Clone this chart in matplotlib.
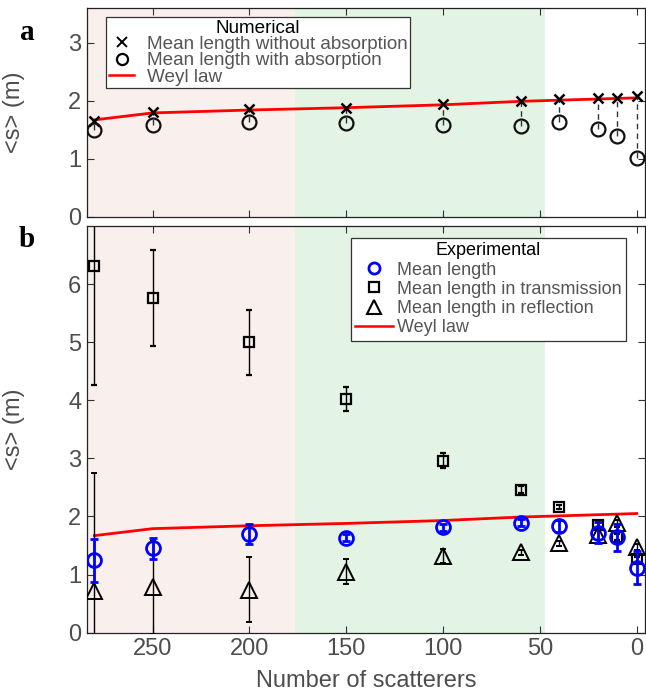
import matplotlib
matplotlib.use("Agg")
import matplotlib.pyplot as plt
from matplotlib.lines import Line2D
import numpy as np

plt.rcParams['font.family'] = ['Liberation Sans', 'DejaVu Sans']

# Data
scatterers = [280, 250, 200, 150, 100, 60, 40, 20, 10, 0]
weyl = [1.67, 1.79, 1.84, 1.88, 1.93, 1.99, 2.01, 2.03, 2.04, 2.05]

# panel a - numerical
num_no_abs = [1.65, 1.80, 1.85, 1.88, 1.95, 1.99, 2.03, 2.05, 2.05, 2.09]
num_abs = [1.49, 1.58, 1.64, 1.61, 1.58, 1.57, 1.64, 1.51, 1.39, 1.01]

# panel b - experimental
exp_mean = [1.25, 1.45, 1.70, 1.63, 1.81, 1.89, 1.84, 1.72, 1.64, 1.12]
exp_mean_err = [0.37, 0.18, 0.17, 0.06, 0.06, 0.06, 0.10, 0.18, 0.23, 0.29]
exp_trans = [6.31, 5.76, 5.00, 4.02, 2.96, 2.46, 2.16, 1.85, 1.65, 1.26]
exp_trans_err = [2.04, 0.83, 0.56, 0.21, 0.13, 0.06, 0.03, 0.05, 0.05, 0.05]
exp_refl = [0.72, 0.78, 0.74, 1.05, 1.32, 1.38, 1.54, 1.68, 1.88, 1.48]
exp_refl_err = [2.02, 0.80, 0.56, 0.21, 0.12, 0.05, 0.04, 0.08, 0.06, 0.05]

# shaded regimes
pink_span = (284, 176.5)
green_span = (176.5, 47.3)

TICK_COLOR = '#4d4d4d'
TEXT_GREY = '#555555'

fig = plt.figure(figsize=(6.46, 6.95), dpi=100)
ax_a = fig.add_axes([0.1342, 0.6882, 0.8650, 0.3003])
ax_b = fig.add_axes([0.1342, 0.0897, 0.8650, 0.5852])


def style_axes(ax):
    ax.axvspan(*pink_span, color='#f9efed', zorder=0, lw=0)
    ax.axvspan(*green_span, color='#e3f3e4', zorder=0, lw=0)
    ax.set_xlim(284, -4.5)
    ax.set_xticks([250, 200, 150, 100, 50, 0])
    ax.tick_params(direction='in', length=5, width=0.8, top=True, right=True,
                   labelsize=17, labelcolor=TICK_COLOR, color='#333333', pad=4)
    for s in ax.spines.values():
        s.set_color('#222222')
        s.set_linewidth(0.9)
    ax.set_ylabel('<s> (m)', fontsize=17, color=TICK_COLOR)
    ax.yaxis.set_label_coords(-0.11, 0.5)


# ---- panel a ----
style_axes(ax_a)
ax_a.set_ylim(0, 3.6)
ax_a.set_yticks([0, 1, 2, 3])
ax_a.tick_params(labelbottom=False)
ax_a.vlines(scatterers, num_abs, num_no_abs, colors='#333333', linestyles=(0, (4, 3)),
            lw=1.0, zorder=2)
ax_a.plot(scatterers, weyl, color='red', lw=2, zorder=3)
ax_a.plot(scatterers, num_no_abs, 'x', color='black', ms=7.5, mew=1.8, ls='none', zorder=4)
ax_a.plot(scatterers, num_abs, 'o', mfc='none', mec='#111111', ms=10, mew=1.6, ls='none', zorder=4)

h_a = [Line2D([], [], marker='x', color='black', ls='none', ms=7, mew=1.4),
       Line2D([], [], marker='o', mfc='none', mec='black', ls='none', ms=8, mew=1.6),
       Line2D([], [], color='red', lw=1.8)]
leg_a = ax_a.legend(h_a, ['Mean length without absorption', 'Mean length with absorption', 'Weyl law'],
                    title='Numerical', loc='upper left', bbox_to_anchor=(0.0345, 0.957),
                    borderaxespad=0, fontsize=13.6, title_fontsize=13.6, labelcolor=TEXT_GREY,
                    fancybox=False, edgecolor='#333333', framealpha=1, labelspacing=-0.05,
                    borderpad=0.15, handletextpad=0.65, handlelength=1.35)
leg_a.get_frame().set_linewidth(0.9)

# ---- panel b ----
style_axes(ax_b)
ax_b.set_ylim(0, 7)
ax_b.set_yticks([0, 1, 2, 3, 4, 5, 6])
ax_b.set_xlabel('Number of scatterers', fontsize=17, color=TICK_COLOR, labelpad=7)
ax_b.plot(scatterers, weyl, color='red', lw=2, zorder=3)
ax_b.errorbar(scatterers, exp_refl, yerr=exp_refl_err, fmt='^', mfc='none', mec='black',
              ms=11, mew=1.4, ecolor='black', elinewidth=1.0, capsize=2, zorder=4)
ax_b.errorbar(scatterers, exp_trans, yerr=exp_trans_err, fmt='s', mfc='none', mec='black',
              ms=7.5, mew=1.6, ecolor='black', elinewidth=1.0, capsize=2, zorder=4)
ax_b.errorbar(scatterers, exp_mean, yerr=exp_mean_err, fmt='o', mfc='none', mec='blue',
              ms=10, mew=2.0, ecolor='blue', elinewidth=2.0, capsize=3, capthick=2, zorder=5)

h_b = [Line2D([], [], marker='o', mfc='none', mec='blue', ls='none', ms=8, mew=2),
       Line2D([], [], marker='s', mfc='none', mec='black', ls='none', ms=7, mew=1.6),
       Line2D([], [], marker='^', mfc='none', mec='black', ls='none', ms=10, mew=1.5),
       Line2D([], [], color='red', lw=1.8)]
leg_b = ax_b.legend(h_b, ['Mean length', 'Mean length in transmission', 'Mean length in reflection', 'Weyl law'],
                    title='Experimental', loc='upper left', bbox_to_anchor=(0.4726, 0.9705),
                    borderaxespad=0, fontsize=13, title_fontsize=13, labelcolor=TEXT_GREY,
                    fancybox=False, edgecolor='#333333', framealpha=1, labelspacing=0.12,
                    borderpad=0.25, handletextpad=0.2, handlelength=2.1)
leg_b.get_frame().set_linewidth(0.9)

# panel letters
fig.text(0.042, 0.953, 'a', fontsize=21, fontweight='bold', family='Liberation Serif',
         ha='center', va='center')
fig.text(0.042, 0.655, 'b', fontsize=21, fontweight='bold', family='Liberation Serif',
         ha='center', va='center')

fig.savefig('out.png', dpi=100)
